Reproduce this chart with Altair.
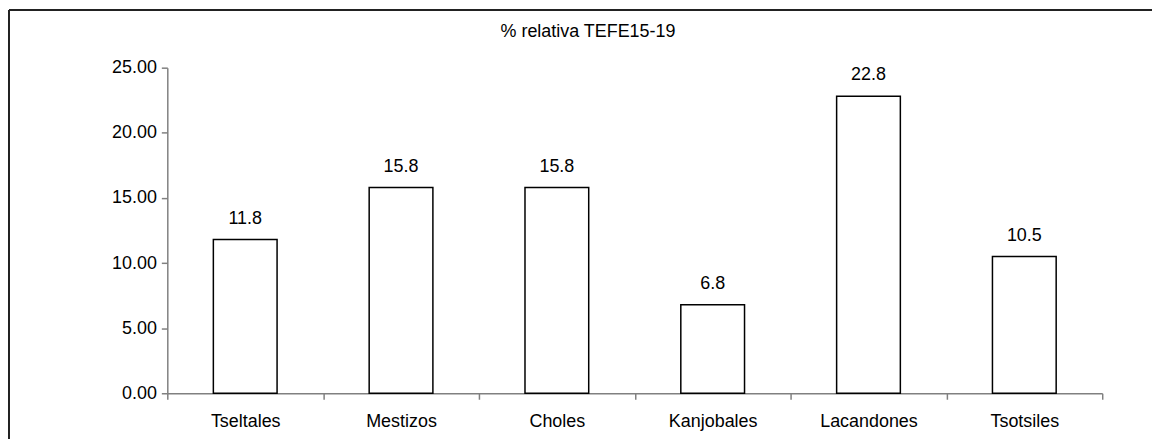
import altair as alt
import pandas as pd

categories = ["Tseltales", "Mestizos", "Choles", "Kanjobales", "Lacandones", "Tsotsiles"]
values = [11.8, 15.8, 15.8, 6.8, 22.8, 10.5]
y_ticks = [0, 5, 10, 15, 20, 25]
title_text = "% relativa TEFE15-19"

df = pd.DataFrame({"grupo": categories, "valor": values})

FONT = "Liberation Sans"
FS = 18
W, H = 939, 327

x_enc = alt.X(
    "grupo:N",
    sort=categories,
    scale=alt.Scale(paddingInner=0, paddingOuter=0),
    axis=alt.Axis(
        title=None, labelAngle=0, tickBand="extent", grid=False,
        domainColor="#808080", domainWidth=1.5, tickColor="#808080",
        tickWidth=1.5, tickSize=6, labelPadding=13, labelFont=FONT,
        labelFontSize=FS, labelColor="black",
    ),
)
y_enc = alt.Y(
    "valor:Q",
    scale=alt.Scale(domain=[0, 25], nice=False, zero=True),
    axis=alt.Axis(
        title=None, values=y_ticks, format=".2f", grid=False,
        domainColor="#808080", domainWidth=1.5, tickColor="#808080",
        tickWidth=1.5, tickSize=6, labelPadding=5, labelFont=FONT,
        labelFontSize=FS, labelColor="black",
    ),
)

bars = alt.Chart(df).mark_bar(
    size=64, fill="white", stroke="black", strokeWidth=1.5
).encode(x=x_enc, y=y_enc)

labels = alt.Chart(df).mark_text(
    baseline="alphabetic", dy=-16, font=FONT, fontSize=FS, color="black"
).encode(
    x=alt.X("grupo:N", sort=categories),
    y=alt.Y("valor:Q"),
    text=alt.Text("valor:Q", format=".1f"),
)

frame = alt.Data(values=[{"k": 1}])
left_border = alt.Chart(frame).mark_rule(color="#222222", strokeWidth=2).encode(
    x=alt.value(-159), y=alt.value(-58), y2=alt.value(600)
)
top_border = alt.Chart(frame).mark_rule(color="#222222", strokeWidth=2).encode(
    x=alt.value(-159), x2=alt.value(1200), y=alt.value(-58)
)

chart = alt.layer(bars, labels, left_border, top_border).properties(
    width=W,
    height=H,
    autosize=alt.AutoSizeParams(type="none"),
    padding={"left": 160, "top": 59, "right": 50, "bottom": 45},
    title=alt.TitleParams(
        text=title_text, anchor="middle", dx=-47, offset=-46,
        baseline="alphabetic",
        font=FONT, fontSize=FS, fontWeight="normal", color="black",
    ),
).configure_view(strokeWidth=0)

chart.save("out.html", embed_options={"renderer": "svg", "actions": False})
